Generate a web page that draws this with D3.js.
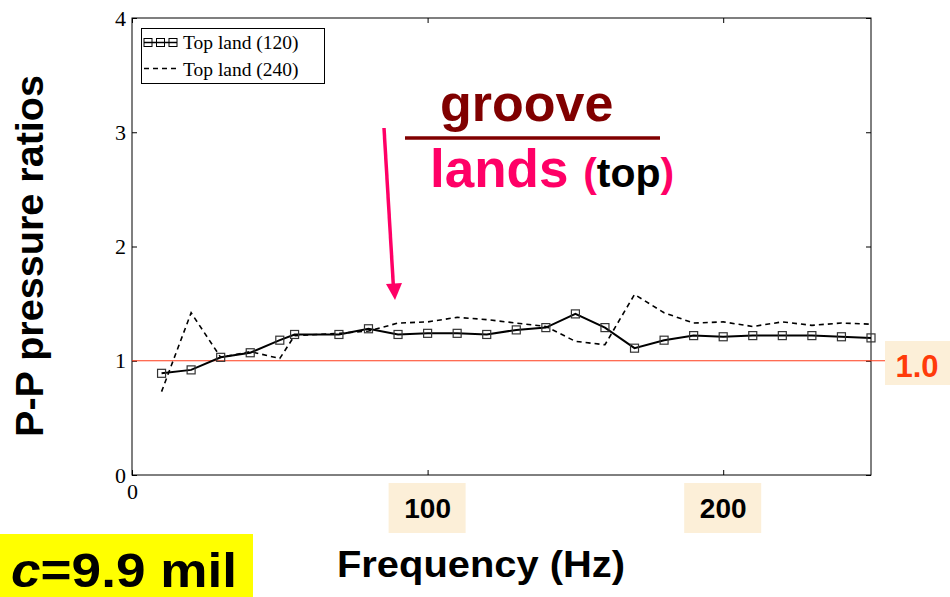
<!DOCTYPE html>
<html>
<head>
<meta charset="utf-8">
<script src="https://cdn.jsdelivr.net/npm/d3@7"></script>
<style>
  html, body { margin: 0; padding: 0; background: #fff; }
  svg { display: block; }
</style>
</head>
<body>
<svg id="chart" width="950" height="597"></svg>
<script>
// Frequency sample points (Hz)
const freq = [10, 20, 30, 40, 50, 55, 70, 80, 90, 100, 110, 120, 130, 140, 150,
              160, 170, 180, 190, 200, 210, 220, 230, 240, 250];
// Peak-to-peak pressure ratio, top land, 120 rpm
const topLand120 = [0.89, 0.92, 1.03, 1.07, 1.18, 1.23, 1.23, 1.28, 1.23, 1.24, 1.24, 1.23, 1.27, 1.29, 1.41,
                    1.29, 1.11, 1.18, 1.22, 1.21, 1.22, 1.22, 1.22, 1.21, 1.20];
// Peak-to-peak pressure ratio, top land, 240 rpm
const topLand240 = [0.73, 1.42, 1.03, 1.08, 1.02, 1.22, 1.24, 1.26, 1.33, 1.34, 1.38, 1.36, 1.33, 1.30, 1.17,
                    1.14, 1.58, 1.42, 1.33, 1.34, 1.30, 1.34, 1.31, 1.33, 1.32];
const yTicks = [0, 1, 2, 3, 4];
const xTicks = [0, 100, 200];
const highlightedXTicks = ["100", "200"];
const refValue = 1.0;

const svg = d3.select("#chart");
const mLeft = 132, mRight = 871, mTop = 18, mBottom = 475;

const x = d3.scaleLinear().domain([0, 250]).range([mLeft, mRight]);
const y = d3.scaleLinear().domain([0, 4]).range([mBottom, mTop]);

const serif = "'Liberation Serif', 'Times New Roman', serif";
const sans = "'Liberation Sans', Arial, sans-serif";

// Plot frame
svg.append("rect")
  .attr("x", mLeft).attr("y", mTop)
  .attr("width", mRight - mLeft).attr("height", mBottom - mTop)
  .attr("fill", "none").attr("stroke", "#000").attr("stroke-width", 1);

// Axes (ticks pointing inward, mirrored on opposite sides)
const axisStyle = g => {
  g.select(".domain").remove();
  g.selectAll("line").attr("stroke", "#000");
  g.selectAll("text").attr("font-family", serif).attr("font-size", 22).attr("fill", "#000");
};
svg.append("g").attr("transform", `translate(${mLeft},0)`)
  .call(d3.axisLeft(y).tickValues(yTicks).tickSize(-5).tickPadding(6).tickFormat(d3.format("d")))
  .call(axisStyle);
svg.append("g").attr("transform", `translate(${mRight},0)`)
  .call(d3.axisRight(y).tickValues(yTicks).tickSize(-5).tickFormat(""))
  .call(axisStyle);
// bottom axis: only the origin keeps its plain label, 100 and 200 get badges below
svg.append("g").attr("transform", `translate(0,${mBottom})`)
  .call(d3.axisBottom(x).tickValues(xTicks).tickSize(-5).tickPadding(8)
    .tickFormat(d => highlightedXTicks.includes(String(d)) ? "" : d3.format("d")(d)))
  .call(axisStyle);
svg.append("g").attr("transform", `translate(0,${mTop})`)
  .call(d3.axisTop(x).tickValues(xTicks).tickSize(-5).tickFormat(""))
  .call(axisStyle);

// Reference line at ratio 1.0
svg.append("line")
  .attr("x1", mLeft).attr("x2", 886)
  .attr("y1", y(refValue)).attr("y2", y(refValue))
  .attr("stroke", "#ff3b1a").attr("stroke-width", 1.2);

// Series lines
const line = vals => d3.line().x((d, i) => x(freq[i])).y(d => y(d))(vals);

svg.append("path")
  .attr("d", line(topLand240))
  .attr("fill", "none").attr("stroke", "#000")
  .attr("stroke-width", 1.6).attr("stroke-dasharray", "5,4");

svg.append("path")
  .attr("d", line(topLand120))
  .attr("fill", "none").attr("stroke", "#000").attr("stroke-width", 2);

const sq = 8;
svg.append("g").selectAll("rect")
  .data(topLand120)
  .join("rect")
  .attr("x", (d, i) => x(freq[i]) - sq / 2)
  .attr("y", d => y(d) - sq / 2)
  .attr("width", sq).attr("height", sq)
  .attr("fill", "none").attr("stroke", "#333").attr("stroke-width", 1.2);

// Legend
const lg = svg.append("g");
lg.append("rect")
  .attr("x", 141.5).attr("y", 28.5).attr("width", 183).attr("height", 55)
  .attr("fill", "#fff").attr("stroke", "#000").attr("stroke-width", 1);
lg.append("line").attr("x1", 144).attr("x2", 177).attr("y1", 42.5).attr("y2", 42.5)
  .attr("stroke", "#000").attr("stroke-width", 1.5);
[148, 160.5, 173].forEach(cx => {
  lg.append("rect").attr("x", cx - 4).attr("y", 38.5).attr("width", 8).attr("height", 8)
    .attr("fill", "none").attr("stroke", "#000").attr("stroke-width", 1);
});
lg.append("line").attr("x1", 144).attr("x2", 177).attr("y1", 68.5).attr("y2", 68.5)
  .attr("stroke", "#000").attr("stroke-width", 1.5).attr("stroke-dasharray", "5,4");
lg.append("text").attr("x", 183).attr("y", 49)
  .attr("font-family", serif).attr("font-size", 19.5).text("Top land (120)");
lg.append("text").attr("x", 183).attr("y", 75.5)
  .attr("font-family", serif).attr("font-size", 19.5).text("Top land (240)");

// Highlighted frequency tick labels
const cream = "#fcefd8";
highlightedXTicks.forEach(t => {
  const cx = x(+t);
  svg.append("rect").attr("x", cx - 39).attr("y", 483).attr("width", 77).attr("height", 50)
    .attr("fill", cream);
  svg.append("text").attr("x", cx).attr("y", 518)
    .attr("text-anchor", "middle").attr("font-family", sans).attr("font-weight", "bold")
    .attr("font-size", 28).attr("fill", "#000").text(t);
});

// Reference value label
svg.append("rect").attr("x", 885).attr("y", 341).attr("width", 65).attr("height", 44).attr("fill", cream);
svg.append("text").attr("x", 917).attr("y", 377)
  .attr("text-anchor", "middle").attr("font-family", sans).attr("font-weight", "bold")
  .attr("font-size", 31).attr("fill", "#ff3b0a").text("1.0");

// Axis titles
svg.append("text")
  .attr("transform", "translate(43,256) rotate(-90)")
  .attr("text-anchor", "middle").attr("font-family", sans).attr("font-weight", "bold")
  .attr("font-size", 39).attr("textLength", 362).attr("lengthAdjust", "spacingAndGlyphs")
  .attr("fill", "#000").text("P-P pressure ratios");
svg.append("text").attr("x", 481).attr("y", 577)
  .attr("text-anchor", "middle").attr("font-family", sans).attr("font-weight", "bold")
  .attr("font-size", 37).attr("textLength", 288).attr("lengthAdjust", "spacingAndGlyphs")
  .attr("fill", "#000").text("Frequency (Hz)");

// Clearance tag
svg.append("rect").attr("x", 0).attr("y", 534).attr("width", 253).attr("height", 63).attr("fill", "#ffff00");
const ct = svg.append("text").attr("x", 11).attr("y", 587)
  .attr("font-family", sans).attr("font-weight", "bold").attr("font-size", 49)
  .attr("textLength", 226).attr("lengthAdjust", "spacingAndGlyphs").attr("fill", "#000");
ct.append("tspan").attr("font-style", "italic").text("c");
ct.append("tspan").text("=9.9 mil");

// groove / lands annotation
svg.append("text").attr("x", 440).attr("y", 121)
  .attr("font-family", sans).attr("font-weight", "bold").attr("font-size", 52)
  .attr("fill", "#800000").text("groove");
svg.append("line").attr("x1", 405).attr("x2", 660).attr("y1", 138).attr("y2", 138)
  .attr("stroke", "#800000").attr("stroke-width", 3.3);
const lt = svg.append("text").attr("x", 430).attr("y", 187)
  .attr("font-family", sans).attr("font-weight", "bold").attr("fill", "#ff0066");
lt.append("tspan").attr("font-size", 53).text("lands ");
lt.append("tspan").attr("font-size", 41).text("(");
lt.append("tspan").attr("font-size", 41).attr("fill", "#000").text("top");
lt.append("tspan").attr("font-size", 41).text(")");

// Arrow pointing down to the curves
svg.append("line").attr("x1", 384).attr("y1", 128).attr("x2", 393.5).attr("y2", 288)
  .attr("stroke", "#ff0066").attr("stroke-width", 3.5);
svg.append("path").attr("d", "M386,284 L402,283 L395,300 Z").attr("fill", "#ff0066");
</script>
</body>
</html>
